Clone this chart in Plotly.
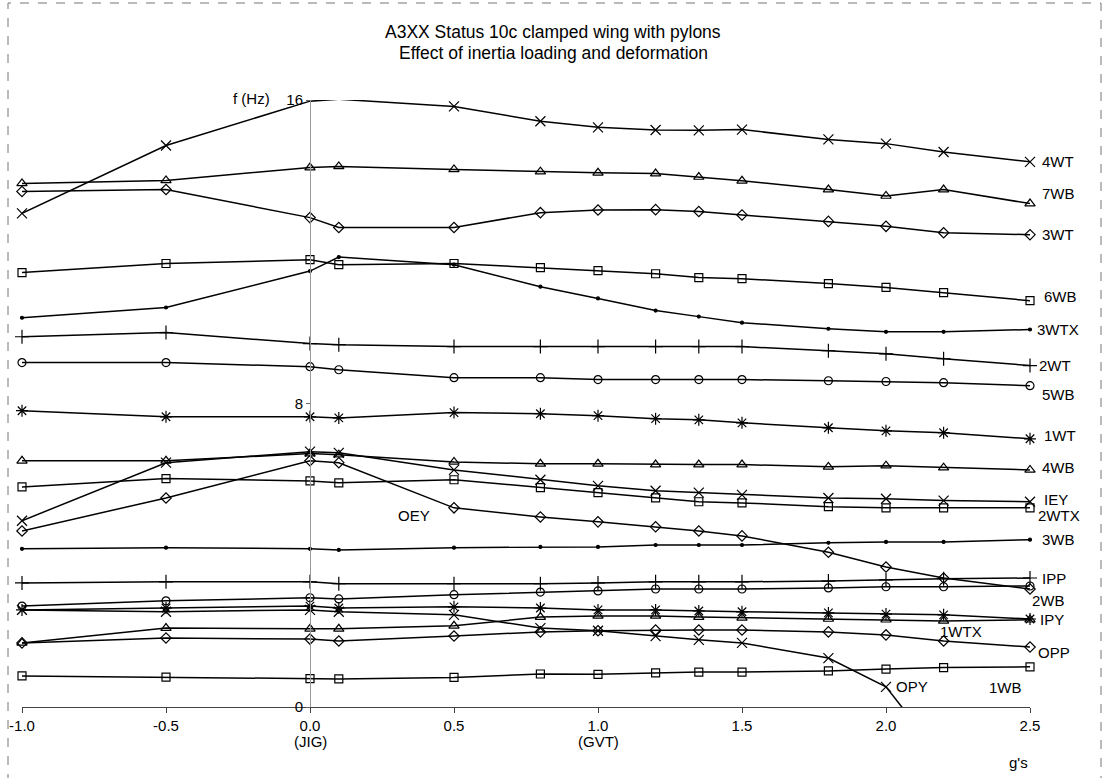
import plotly.graph_objects as go

# Load factor (g) at which the clamped-wing modes were computed
g = [-1.0, -0.5, 0.0, 0.1, 0.5, 0.8, 1.0, 1.2, 1.35, 1.5, 1.8, 2.0, 2.2, 2.5]

# Mode frequencies f (Hz) per mode
f_4WT = [13.01, 14.80, 15.97, 16.02, 15.83, 15.44, 15.28, 15.21, 15.20, 15.22, 14.96, 14.85, 14.63, 14.37]
f_7WB = [13.80, 13.88, 14.22, 14.25, 14.17, 14.11, 14.08, 14.06, 13.97, 13.87, 13.64, 13.47, 13.64, 13.27]
f_3WT = [13.59, 13.64, 12.90, 12.64, 12.64, 13.03, 13.10, 13.11, 13.06, 12.97, 12.80, 12.67, 12.50, 12.45]
f_6WB = [11.45, 11.69, 11.79, 11.66, 11.69, 11.58, 11.50, 11.42, 11.32, 11.29, 11.16, 11.06, 10.92, 10.71]
f_3WTX = [10.26, 10.53, 11.49, 11.86, 11.66, 11.08, 10.77, 10.45, 10.29, 10.13, 9.97, 9.89, 9.89, 9.95]
f_2WT = [9.76, 9.87, 9.58, 9.55, 9.50, 9.50, 9.50, 9.50, 9.50, 9.50, 9.39, 9.31, 9.18, 9.00]
f_5WB = [9.08, 9.08, 8.97, 8.89, 8.68, 8.68, 8.63, 8.63, 8.63, 8.63, 8.60, 8.58, 8.55, 8.47]
f_1WT = [7.81, 7.65, 7.65, 7.62, 7.76, 7.73, 7.68, 7.60, 7.57, 7.49, 7.36, 7.28, 7.23, 7.07]
f_4WB = [6.49, 6.49, 6.68, 6.65, 6.46, 6.41, 6.41, 6.39, 6.39, 6.39, 6.33, 6.36, 6.31, 6.25]
f_IEY = [4.91, 6.44, 6.73, 6.70, 6.25, 5.99, 5.83, 5.70, 5.65, 5.59, 5.51, 5.49, 5.44, 5.41]
f_2WTX = [5.80, 6.02, 5.96, 5.91, 5.99, 5.78, 5.65, 5.51, 5.41, 5.38, 5.28, 5.25, 5.25, 5.25]
f_OEY = [4.64, 5.51, 6.49, 6.44, 5.25, 5.01, 4.88, 4.75, 4.64, 4.51, 4.08, 3.69, 3.40, 3.11]
f_3WB = [4.17, 4.20, 4.17, 4.14, 4.20, 4.22, 4.22, 4.27, 4.27, 4.27, 4.33, 4.35, 4.35, 4.41]
f_IPP = [3.27, 3.30, 3.30, 3.25, 3.25, 3.25, 3.27, 3.30, 3.30, 3.30, 3.32, 3.35, 3.38, 3.40]
f_2WB = [2.66, 2.80, 2.88, 2.85, 2.96, 3.03, 3.06, 3.11, 3.11, 3.11, 3.14, 3.17, 3.17, 3.19]
f_IPY = [2.56, 2.61, 2.66, 2.61, 2.64, 2.61, 2.56, 2.56, 2.53, 2.51, 2.48, 2.45, 2.43, 2.32]
f_1WTX = [1.69, 2.08, 2.06, 2.06, 2.14, 2.37, 2.40, 2.40, 2.37, 2.35, 2.32, 2.30, 2.27, 2.30]
f_OPP = [1.69, 1.82, 1.79, 1.74, 1.87, 1.98, 2.01, 2.03, 2.03, 2.03, 1.98, 1.90, 1.74, 1.58]
f_OPY = [2.56, 2.51, 2.56, 2.51, 2.43, 2.08, 2.01, 1.87, 1.77, 1.69, 1.29, 0.53, -1.40]
f_1WB = [0.82, 0.79, 0.75, 0.74, 0.78, 0.87, 0.86, 0.90, 0.92, 0.92, 0.95, 1.00, 1.04, 1.06]

x_ticks = [-1.0, -0.5, 0.0, 0.5, 1.0, 1.5, 2.0, 2.5]
x_tick_text = ["-1.0", "-0.5", "0.0", "0.5", "1.0", "1.5", "2.0", "2.5"]
x_tick_notes = {0.0: "(JIG)", 1.0: "(GVT)"}
y_ticks = [0, 8, 16]
Y_MAX = 16

modes = [
    ("4WT", f_4WT), ("7WB", f_7WB), ("3WT", f_3WT), ("6WB", f_6WB),
    ("3WTX", f_3WTX), ("2WT", f_2WT), ("5WB", f_5WB), ("1WT", f_1WT),
    ("4WB", f_4WB), ("IEY", f_IEY), ("2WTX", f_2WTX), ("OEY", f_OEY),
    ("3WB", f_3WB), ("IPP", f_IPP), ("2WB", f_2WB), ("IPY", f_IPY),
    ("1WTX", f_1WTX), ("OPP", f_OPP), ("OPY", f_OPY), ("1WB", f_1WB),
]

# marker symbol and size per mode
symbols = {
    "4WT": ("x-thin-open", 10), "7WB": ("triangle-up-open", 9), "3WT": ("diamond-open", 8),
    "6WB": ("square-open", 8), "3WTX": ("circle", 3), "2WT": ("cross-thin-open", 10),
    "5WB": ("circle-open", 8), "1WT": ("asterisk-open", 10), "4WB": ("triangle-up-open", 9),
    "IEY": ("x-thin-open", 10), "2WTX": ("square-open", 8), "OEY": ("diamond-open", 8),
    "3WB": ("circle", 3), "IPP": ("cross-thin-open", 10), "2WB": ("circle-open", 8),
    "IPY": ("asterisk-open", 10), "1WTX": ("triangle-up-open", 9), "OPP": ("diamond-open", 8),
    "OPY": ("x-thin-open", 10), "1WB": ("square-open", 8),
}

# label placement: (point index, xanchor, xshift px, yshift px)
label_pos = {
    "4WT": (-1, "left", 10, 0), "7WB": (-1, "left", 10, 10), "3WT": (-1, "left", 10, 0),
    "6WB": (-1, "left", 12, 4), "3WTX": (-1, "left", 5, 0), "2WT": (-1, "left", 7, 0),
    "5WB": (-1, "left", 10, -9), "1WT": (-1, "left", 12, 3), "4WB": (-1, "left", 10, 2),
    "IEY": (-1, "left", 12, 2), "2WTX": (-1, "left", 6, -8), "OEY": (4, "right", -22, -8),
    "3WB": (-1, "left", 10, 0), "IPP": (-1, "left", 10, 0), "2WB": (-1, "left", 0, -15),
    "IPY": (-1, "left", 8, -1), "1WTX": (-2, "left", -6, -11), "OPP": (-1, "left", 6, -5),
    "OPY": (-2, "left", 8, 0), "1WB": (-1, "right", -6, -21),
}

FONT = "Liberation Sans, Arial, sans-serif"
LABEL_SIZE = 15
W, H = 1105, 778
ML, MR, MT, MB = 22, 75, 100, 71
PW, PH = W - ML - MR, H - MT - MB


def paper_x(px):
    return (px - ML) / PW


def paper_y(py):
    return (H - MB - py) / PH


fig = go.Figure()

for name, vals in modes:
    sym, size = symbols[name]
    xs = g[:len(vals)]
    # points that fall outside the frame are not marked
    opac = [1 if 0 <= v <= Y_MAX - 0.05 else 0 for v in vals]
    fig.add_trace(go.Scatter(
        x=xs, y=vals, mode="lines+markers", name=name,
        line=dict(color="black", width=1.5),
        marker=dict(symbol=sym, size=size, color="black", opacity=opac,
                    line=dict(color="black", width=1.2)),
        cliponaxis=False, showlegend=False,
    ))
    idx, anchor, dx, dy = label_pos[name]
    fig.add_annotation(
        x=xs[idx], y=vals[idx], xref="x", yref="y", text=name, showarrow=False,
        xanchor=anchor, yanchor="middle", xshift=dx, yshift=dy,
        font=dict(family=FONT, size=LABEL_SIZE, color="black"),
    )

# title
fig.add_annotation(x=paper_x(553), y=paper_y(32), xref="paper", yref="paper",
                   text="A3XX Status 10c clamped wing with pylons", showarrow=False,
                   xanchor="center", yanchor="middle",
                   font=dict(family=FONT, size=17.5, color="black"))
fig.add_annotation(x=paper_x(553), y=paper_y(53), xref="paper", yref="paper",
                   text="Effect of inertia loading and deformation", showarrow=False,
                   xanchor="center", yanchor="middle",
                   font=dict(family=FONT, size=17.5, color="black"))

# reference-state captions under the 0.0 and 1.0 ticks
for xv, note in x_tick_notes.items():
    fig.add_annotation(x=xv, y=0, xref="x", yref="y", text=note, showarrow=False,
                       xanchor="center", yanchor="top", yshift=-24,
                       font=dict(family=FONT, size=LABEL_SIZE, color="black"))

# axis titles
fig.add_annotation(x=0, y=Y_MAX, xref="x", yref="y", text="f (Hz)", showarrow=False,
                   xanchor="right", yanchor="middle", xshift=-38, yshift=2,
                   font=dict(family=FONT, size=LABEL_SIZE, color="black"))
fig.add_annotation(x=2.5, y=0, xref="x", yref="y", text="g's", showarrow=False,
                   xanchor="right", yanchor="middle", yshift=-55,
                   font=dict(family=FONT, size=LABEL_SIZE, color="black"))

# dashed page frame
fig.add_shape(type="rect", xref="paper", yref="paper",
              x0=paper_x(8), x1=paper_x(1101), y0=paper_y(790), y1=paper_y(3),
              line=dict(color="#777", width=1, dash="dash"), layer="below")

fig.update_layout(
    width=W, height=H,
    margin=dict(l=ML, r=MR, t=MT, b=MB, autoexpand=False),
    paper_bgcolor="white", plot_bgcolor="white",
    font=dict(family=FONT, size=LABEL_SIZE, color="black"),
    xaxis=dict(range=[-1.0, 2.5], tickmode="array", tickvals=x_ticks,
               ticktext=x_tick_text, ticklabeloverflow="allow",
               showgrid=False, zeroline=False, showline=True, linecolor="#444",
               linewidth=1, ticks="outside", ticklen=5, tickcolor="#444",
               tickfont=dict(family=FONT, size=LABEL_SIZE, color="black")),
    yaxis=dict(range=[0, Y_MAX], tickmode="array", tickvals=y_ticks, anchor="free",
               position=1.0 / 3.5, showgrid=False, zeroline=False,
               showline=True, linecolor="#999", linewidth=1, ticks="outside",
               ticklen=4, tickcolor="#666",
               tickfont=dict(family=FONT, size=LABEL_SIZE, color="black")),
)

fig.write_html("out.html", config={"displayModeBar": False})
